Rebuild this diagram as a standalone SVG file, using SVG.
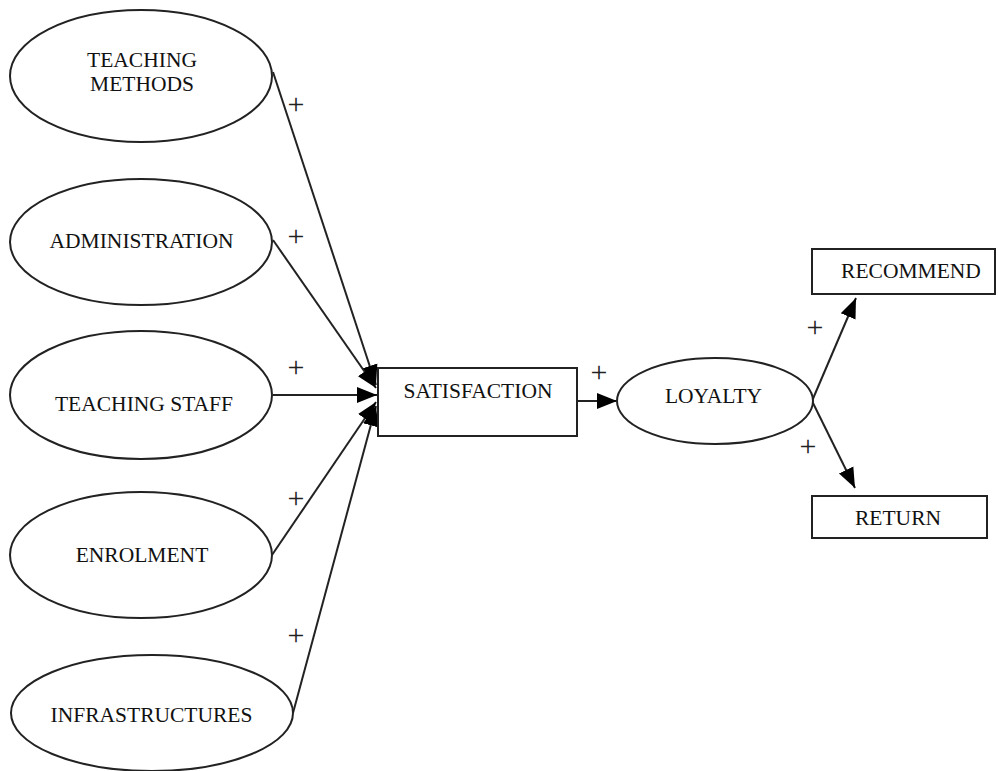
<svg xmlns="http://www.w3.org/2000/svg" width="998" height="771" viewBox="0 0 998 771">
<defs>
<marker id="ahL" viewBox="0 0 10 10" refX="10" refY="5" markerWidth="20" markerHeight="20" markerUnits="userSpaceOnUse" orient="auto">
<path d="M0,1 L10,5 L0,9 z" fill="#000"/>
</marker>
</defs>
<style>
.n{fill:#fff;stroke:#222;stroke-width:2}
.t{font-family:"Liberation Serif","Times New Roman",serif;font-size:21.5px;fill:#111;text-anchor:middle}
.p{font-family:"Liberation Serif","Times New Roman",serif;font-size:30px;fill:#222;text-anchor:middle}
.c{stroke:#222;stroke-width:2;fill:none}
</style>
<rect width="998" height="771" fill="#fff"/>
<g id="connectors">
<line class="c" x1="273" y1="72" x2="376" y2="385" marker-end="url(#ahL)"/>
<line class="c" x1="273" y1="240" x2="376" y2="388" marker-end="url(#ahL)"/>
<line class="c" x1="273" y1="395" x2="377" y2="395" marker-end="url(#ahL)"/>
<line class="c" x1="272" y1="555" x2="376" y2="402" marker-end="url(#ahL)"/>
<line class="c" x1="293" y1="713" x2="376" y2="406" marker-end="url(#ahL)"/>
<line class="c" x1="577" y1="401" x2="617" y2="401" marker-end="url(#ahL)"/>
<line class="c" x1="812" y1="401" x2="856" y2="298" marker-end="url(#ahL)"/>
<line class="c" x1="812" y1="401" x2="855" y2="488" marker-end="url(#ahL)"/>
<text class="p" x="296" y="114">+</text>
<text class="p" x="296" y="246">+</text>
<text class="p" x="296" y="377">+</text>
<text class="p" x="296" y="508">+</text>
<text class="p" x="296" y="645">+</text>
<text class="p" x="599" y="382">+</text>
<text class="p" x="815" y="337">+</text>
<text class="p" x="808" y="456">+</text>
</g>
<g id="teaching-methods">
<ellipse class="n" cx="141" cy="76" rx="131" ry="66"/>
<text class="t" x="142" y="67">TEACHING</text>
<text class="t" x="142" y="91">METHODS</text>
</g>
<g id="administration">
<ellipse class="n" cx="141" cy="242" rx="131" ry="63"/>
<text class="t" x="141.5" y="248">ADMINISTRATION</text>
</g>
<g id="teaching-staff">
<ellipse class="n" cx="141" cy="395" rx="131" ry="64"/>
<text class="t" x="144" y="411">TEACHING STAFF</text>
</g>
<g id="enrolment">
<ellipse class="n" cx="141" cy="555" rx="131" ry="63"/>
<text class="t" x="142" y="562">ENROLMENT</text>
</g>
<g id="infrastructures">
<ellipse class="n" cx="152" cy="713" rx="141" ry="58"/>
<text class="t" x="151.5" y="722">INFRASTRUCTURES</text>
</g>
<g id="satisfaction">
<rect class="n" x="378" y="368" width="199" height="68"/>
<text class="t" x="478" y="398">SATISFACTION</text>
</g>
<g id="loyalty">
<ellipse class="n" cx="715" cy="401" rx="98" ry="43"/>
<text class="t" x="713.5" y="403">LOYALTY</text>
</g>
<g id="recommend">
<rect class="n" x="812" y="249" width="183" height="45"/>
<text class="t" x="911" y="278">RECOMMEND</text>
</g>
<g id="return">
<rect class="n" x="812" y="496" width="175" height="42"/>
<text class="t" x="898" y="525">RETURN</text>
</g>
</svg>
